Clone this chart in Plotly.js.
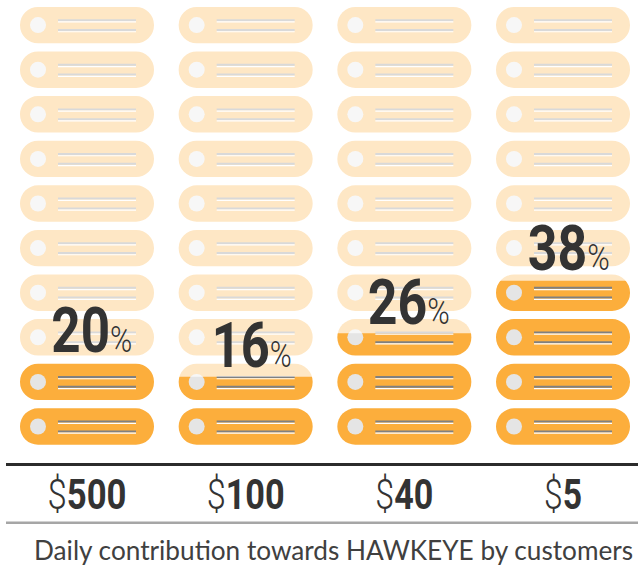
<!DOCTYPE html>
<html>
<head>
<meta charset="utf-8">
<script src="https://cdn.plot.ly/plotly-3.0.1.min.js"></script>
<style>html,body{margin:0;padding:0;background:#fff}#chart{width:638px;height:566px}</style>
</head>
<body>
<div id="chart"></div>
<script>
// Data
var categories = ['$500', '$100', '$40', '$5'];
var shares = [20, 16, 26, 38];
var pillRows = [0,1,2,3,4,5,6,7,8,9];
var axisCaption = 'Daily contribution towards HAWKEYE by customers';
var labelShiftX = [5, 6, 5, 6];
var labelShiftY = [-10, -7, -8, -6];
var labelWidths = [81, 80, 82, 82];
var tickWidths = [79, 78, 58, 38];

// Pill geometry, in axis units (x: one column per unit, y: percent)
var pxX = 158.67, pxY = 4.36;
var pillBase = 0.41, pillPitch = 10.23, pillH = 8.35, pillW = 134/pxX;
var yMin = -3.784, yMax = 102.41;
var DIN = 'Roboto, "Liberation Sans", sans-serif';

function rowBase(r){ return pillBase + r*pillPitch; }
var colIdx = categories.map(function(_,i){return i;});

var barX=[], barBase=[], barY=[], dotX=[], dotY=[];
var gx=[], gy=[], wx=[], wy=[];
colIdx.forEach(function(c){
  pillRows.forEach(function(r){
    var b = rowBase(r), top = b + pillH;
    barX.push(c); barBase.push(b); barY.push(pillH);
    dotX.push(c - 49/pxX); dotY.push(b + pillH/2);
    var x0 = c - 29/pxX, x1 = c + 49/pxX;
    [3.05, 5.3].forEach(function(d){
      gx.push(x0,x1,null); gy.push(top-d,top-d,null);
      wx.push(x0,x1,null); wy.push(top-d-0.4,top-d-0.4,null);
    });
  });
});

var ovX=[], ovY=[];
colIdx.forEach(function(c){
  var l = c - pillW/2 - 0.01, r = c + pillW/2 + 0.01;
  ovX.push(l,r,r,l,l,null);
  ovY.push(shares[c],shares[c],yMax,yMax,shares[c],null);
});

var traces = [
  {type:'bar', x:barX, y:barY, base:barBase, width:pillW,
   marker:{color:'#FCAE3C', cornerradius:18, line:{width:0}}, hoverinfo:'skip'},
  {type:'scatter', mode:'lines', x:gx, y:gy, line:{color:'#808080', width:2}, hoverinfo:'skip'},
  {type:'scatter', mode:'lines', x:wx, y:wy, line:{color:'#ffffff', width:1.2}, hoverinfo:'skip'},
  {type:'scatter', mode:'markers', x:dotX, y:dotY, marker:{color:'#E5E5E5', size:16, line:{width:0}}, hoverinfo:'skip'},
  {type:'scatter', mode:'lines', x:ovX, y:ovY, fill:'toself', fillcolor:'rgba(255,255,255,0.7)',
   line:{width:0}, hoverinfo:'skip'}
];

var annotations = colIdx.map(function(c){
  return {
    x:c, y:shares[c], xref:'x', yref:'y', xanchor:'center', yanchor:'bottom',
    xshift:labelShiftX[c], yshift:labelShiftY[c], showarrow:false,
    text:'<b>'+shares[c]+'</b><span style="font-size:37px;font-weight:300">%</span>',
    font:{family:DIN, size:63, color:'#333333'}
  };
});
annotations.push({
  xref:'paper', yref:'paper', x:(333.5-6)/632, y:-(550-463)/463, xanchor:'center', yanchor:'middle',
  showarrow:false, text:axisCaption, font:{family:'Lato, "Open Sans", sans-serif', size:26.2, color:'#404040'}
});

var layout = {
  width:638, height:566, showlegend:false, barmode:'overlay',
  paper_bgcolor:'#ffffff', plot_bgcolor:'#ffffff',
  margin:{l:6, r:0, t:0, b:103, pad:0},
  hovermode:false,
  xaxis:{
    range:[-81/pxX, 551/pxX], tickvals:colIdx,
    ticktext:categories.map(function(s){return '<span style="font-weight:300">'+s.charAt(0)+'</span><b>'+s.slice(1)+'</b>';}),
    tickfont:{family:DIN, size:42, color:'#333333'}, ticklabelstandoff:-7,
    ticks:'', ticklen:0, showgrid:false, zeroline:false, showline:true, linecolor:'#2b2b2b', linewidth:3, fixedrange:true
  },
  yaxis:{range:[yMin,yMax], visible:false, showgrid:false, zeroline:false, fixedrange:true},
  annotations:annotations,
  shapes:[{type:'line', xref:'paper', yref:'paper', x0:0, x1:1, y0:-(522.7-463)/463, y1:-(522.7-463)/463,
    line:{color:'#A6A6A6', width:2.5}}]
};
function narrow(el, w){
  var box = el.getBBox();
  var cx = box.x + box.width/2;
  var prior = el.getAttribute('transform') || '';
  el.setAttribute('transform', prior + ' translate(' + cx + ',0) scale(' + (w/box.width) + ',1) translate(' + (-cx) + ',0)');
}
Plotly.newPlot('chart', traces, layout, {displayModeBar:false, responsive:false}).then(function(gd){
  var ann = gd.querySelectorAll('.annotation-text');
  colIdx.forEach(function(c){ narrow(ann[c], labelWidths[c]); });
  var ticks = gd.querySelectorAll('.xtick text');
  colIdx.forEach(function(c){ narrow(ticks[c], tickWidths[c]); });
});
</script>
</body>
</html>
